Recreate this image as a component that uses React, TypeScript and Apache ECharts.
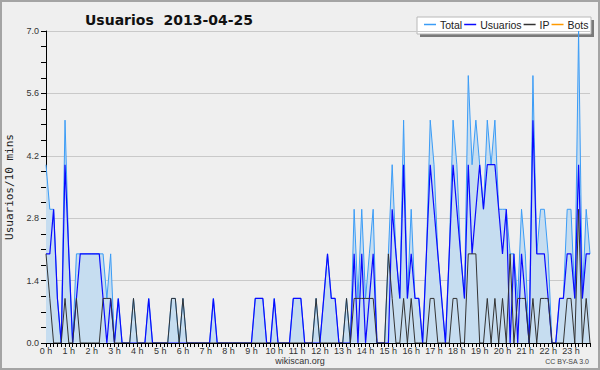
import React, { useEffect, useRef } from "react";
import * as echarts from "echarts";

const hourLabels = ["0 h","1 h","2 h","3 h","4 h","5 h","6 h","7 h","8 h","9 h","10 h","11 h","12 h","13 h","14 h","15 h","16 h","17 h","18 h","19 h","20 h","21 h","22 h","23 h"];
const stepsPerHour = 6;

const total = [
  4,3,3,1,0,5,2,0,2,2, 2,2,2,2,2,2,1,2,0,1, 0,0,0,1,0,0,0,1,0,0, 0,0,0,1,1,0,1,0,0,0,
  0,0,0,0,1,0,0,0,0,0, 0,0,0,0,0,1,1,1,0,0, 1,0,0,0,0,1,1,1,0,0, 0,1,0,1,2,1,1,0,0,1,
  0,3,1,3,1,2,3,0,0,0, 2,4,2,1,5,1,3,1,1,0, 2,5,4,2,1,0,2,5,4,2, 1,6,4,5,4,3,5,4,5,3,
  3,3,2,2,1,3,2,0,6,2, 3,3,2,0,0,1,1,3,3,1, 7,1,3,2
];
const usuarios = [
  2,2,3,1,0,4,2,0,1,2, 2,2,2,2,2,1,0,1,0,1, 0,0,0,0,0,0,0,1,0,0, 0,0,0,0,0,0,0,0,0,0,
  0,0,0,0,1,0,0,0,0,0, 0,0,0,0,0,1,1,1,0,0, 1,0,0,0,0,1,1,1,0,0, 0,0,0,1,2,1,1,0,0,0,
  0,2,0,2,0,1,2,0,0,0, 0,3,2,1,4,1,2,1,1,0, 2,4,3,2,1,0,2,4,3,2, 1,4,2,3,4,3,4,4,4,3,
  2,3,0,2,0,2,1,0,5,2, 2,2,1,0,0,1,1,2,2,1, 4,1,2,2
];
const ip = [
  2,1,0,0,0,1,0,0,1,0, 0,0,0,0,0,1,1,1,0,0, 0,0,0,1,0,0,0,0,0,0, 0,0,0,1,1,0,1,0,0,0,
  0,0,0,0,0,0,0,0,0,0, 0,0,0,0,0,0,0,0,0,0, 0,0,0,0,0,0,0,0,0,0, 0,1,0,0,0,0,0,0,0,1,
  0,1,1,1,1,1,1,0,0,0, 2,1,0,0,1,0,1,0,0,0, 0,1,1,0,0,0,0,1,1,0, 0,2,2,2,0,0,1,0,1,0,
  1,0,2,0,1,1,1,0,1,0, 1,1,1,0,0,0,0,1,1,0, 3,0,1,0
];
const bots = [
  0,0,0,0,0,0,0,0,0,0, 0,0,0,0,0,0,0,0,0,0, 0,0,0,0,0,0,0,0,0,0, 0,0,0,0,0,0,0,0,0,0,
  0,0,0,0,0,0,0,0,0,0, 0,0,0,0,0,0,0,0,0,0, 0,0,0,0,0,0,0,0,0,0, 0,0,0,0,0,0,0,0,0,0,
  0,0,0,0,0,0,0,0,0,0, 0,0,0,0,0,0,0,0,0,0, 0,0,0,0,0,0,0,0,0,0, 0,0,0,0,0,0,0,0,0,0,
  0,0,0,0,0,0,0,0,0,0, 0,0,0,0,0,0,0,0,0,0, 0,0,0,0
];
const yTicks = [0, 1.4, 2.8, 4.2, 5.6, 7.0];

const toPairs = (arr: number[]) => arr.map((v, i) => [i, v]);
const lastIndex = total.length - 1;

const FONT = "Liberation Sans";

export default function App() {
  const ref = useRef<HTMLDivElement>(null);
  useEffect(() => {
    const chart = echarts.init(ref.current!, undefined, { renderer: "svg" });
    chart.setOption({
      animation: false,
      backgroundColor: "#efefef",
      title: {
        text: "Usuarios  2013-04-25",
        left: 80,
        top: 8,
        textStyle: { fontFamily: "DejaVu Sans", fontSize: 14, fontWeight: "bold", color: "#111" },
      },
      legend: {
        data: ["Total", "Usuarios", "IP", "Bots"],
        left: 424,
        top: 19,
        padding: 0,
        itemGap: 2,
        itemWidth: 12,
        itemHeight: 1.5,
        icon: "rect",
        textStyle: { fontFamily: FONT, fontSize: 10.5, color: "#222", padding: [0, 0, 0, -1] },
      },
      graphic: [
        { type: "rect", z: 0, silent: true, shape: { x: 1, y: 1, width: 598, height: 368 }, style: { fill: "none", stroke: "#a4a4a4", lineWidth: 2 } },
        { type: "rect", z: 0, silent: true, shape: { x: 420, y: 20, width: 174, height: 17 }, style: { fill: "#7a7a7a" } },
        { type: "rect", z: 0, silent: true, shape: { x: 417, y: 17, width: 174, height: 17 }, style: { fill: "#ffffff", stroke: "#b8b8b8", lineWidth: 1 } },
        { type: "text", silent: true, style: { x: 300, y: 356, text: "wikiscan.org", textAlign: "center", fontFamily: FONT, fontSize: 9, fill: "#333" } },
        { type: "text", silent: true, style: { x: 589, y: 358, text: "CC BY-SA 3.0", textAlign: "right", fontFamily: FONT, fontSize: 7, fill: "#444" } },
      ],
      grid: { left: 46, right: 10, top: 31, bottom: 27, containLabel: false, outerBoundsMode: "none" },
      xAxis: {
        type: "value",
        min: 0,
        max: lastIndex,
        interval: stepsPerHour,
        z: 10,
        axisLine: { lineStyle: { color: "#000", width: 1 } },
        axisTick: { show: true, length: 4, lineStyle: { color: "#000" } },
        minorTick: { show: true, splitNumber: stepsPerHour, length: 4, lineStyle: { color: "#000" } },
        axisLabel: {
          showMaxLabel: false,
          align: "center",
          formatter: (v: number) => (v % stepsPerHour === 0 ? hourLabels[v / stepsPerHour] : ""),
          fontFamily: FONT,
          fontSize: 9,
          color: "#333",
          margin: 3,
        },
        splitLine: { show: false },
      },
      yAxis: {
        type: "value",
        min: yTicks[0],
        max: yTicks[yTicks.length - 1],
        interval: yTicks[1] - yTicks[0],
        name: "Usuarios/10 mins",
        nameLocation: "middle",
        nameRotate: 90,
        nameGap: 31,
        nameTextStyle: { fontFamily: "DejaVu Sans Mono", fontSize: 11, color: "#222" },
        axisLine: { show: true, lineStyle: { color: "#000" } },
        axisTick: { show: true, length: 5, lineStyle: { color: "#000" } },
        minorTick: { show: true, splitNumber: 4, length: 5, lineStyle: { color: "#000" } },
        axisLabel: { formatter: (v: number) => v.toFixed(1), fontFamily: FONT, fontSize: 9, color: "#333", margin: 7 },
        splitLine: { show: true, lineStyle: { color: "#c9c9c9", width: 1 } },
      },
      series: [
        {
          name: "Total", type: "line", data: toPairs(total), symbol: "none", z: 2,
          lineStyle: { color: "#3b9cf6", width: 1 }, itemStyle: { color: "#3b9cf6" },
          areaStyle: { color: "#c6ddf0", opacity: 1 },
        },
        {
          name: "Usuarios", type: "line", data: toPairs(usuarios), symbol: "none", z: 3,
          lineStyle: { color: "#0a0aff", width: 1.2 }, itemStyle: { color: "#0a0aff" },
        },
        {
          name: "IP", type: "line", data: toPairs(ip), symbol: "none", z: 4,
          lineStyle: { color: "#333333", width: 1 }, itemStyle: { color: "#333333" },
        },
        {
          name: "Bots", type: "line", data: toPairs(bots), symbol: "none", z: 1,
          lineStyle: { color: "#ff9a00", width: 1 }, itemStyle: { color: "#ff9a00" },
        },
      ],
    });
    return () => chart.dispose();
  }, []);
  return <div ref={ref} style={{ position: "fixed", left: 0, top: 0, width: 600, height: 370 }} />;
}
